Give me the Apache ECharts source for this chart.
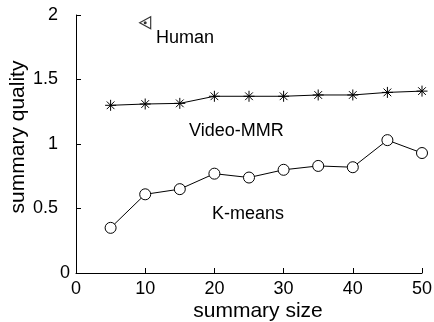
<!DOCTYPE html>
<html>
<head>
<meta charset="utf-8">
<script src="https://cdn.jsdelivr.net/npm/echarts@6/dist/echarts.min.js"></script>
<style>
html,body{margin:0;padding:0;background:#fff;}
#chart{width:434px;height:322px;}
</style>
</head>
<body>
<div id="chart"></div>
<script>
// Data
const sizes = [5, 10, 15, 20, 25, 30, 35, 40, 45, 50];
const videoMMR = [1.30, 1.31, 1.315, 1.37, 1.37, 1.37, 1.38, 1.38, 1.40, 1.41];
const kmeans = [0.35, 0.61, 0.65, 0.77, 0.74, 0.80, 0.83, 0.82, 1.03, 0.93];
const humanX = [10];
const humanY = [1.94];
const xTicks = [0, 10, 20, 30, 40, 50];
const yTicks = [0, 0.5, 1, 1.5, 2];
const labels = ['Human', 'Video-MMR', 'K-means'];

const FONT = '"Liberation Sans", Arial, sans-serif';
const chart = echarts.init(document.getElementById('chart'), null, {renderer: 'canvas'});

const pair = (xs, ys) => xs.map((x, i) => [x, ys[i]]);
const asterisk = 'path://M0,-10L0,10M-10,0L10,0M-7,-7L7,7M-7,7L7,-7';

chart.setOption({
  animation: false,
  backgroundColor: '#fff',
  grid: {left: 76, right: 12, top: 15, bottom: 49, containLabel: false, outerBoundsMode: 'none'},
  xAxis: {
    type: 'value', min: xTicks[0], max: xTicks[xTicks.length - 1], interval: 10,
    name: 'summary size', nameLocation: 'middle', nameGap: 28, nameMoveOverlap: false,
    nameTextStyle: {fontFamily: FONT, fontSize: 21, color: '#000', padding: [0, 0, 0, 18]},
    axisLine: {show: true, lineStyle: {color: '#000', width: 1}},
    axisTick: {show: true, inside: true, length: 5, lineStyle: {color: '#000'}},
    axisLabel: {fontFamily: FONT, fontSize: 18, color: '#000', margin: 7},
    splitLine: {show: false}
  },
  yAxis: {
    type: 'value', min: yTicks[0], max: yTicks[yTicks.length - 1], interval: 0.5,
    name: 'summary quality', nameLocation: 'middle', nameGap: 47, nameMoveOverlap: false,
    nameTextStyle: {fontFamily: FONT, fontSize: 21, color: '#000', padding: [0, 0, 0, 14]},
    axisLine: {show: true, lineStyle: {color: '#000', width: 1}},
    axisTick: {show: true, inside: true, length: 5, lineStyle: {color: '#000'}},
    axisLabel: {
      fontFamily: FONT, fontSize: 18, color: '#000', margin: 6,
      formatter: v => v === 0 ? '{z|0}' : '{n|' + v + '}',
      rich: {
        z: {fontFamily: FONT, fontSize: 18, color: '#000'},
        n: {fontFamily: FONT, fontSize: 18, color: '#000', padding: [0, 12, 0, 0]}
      }
    },
    splitLine: {show: false}
  },
  series: [
    {
      name: 'Video-MMR', type: 'line', data: pair(sizes, videoMMR),
      symbol: asterisk, symbolSize: 11,
      lineStyle: {color: '#000', width: 1},
      itemStyle: {color: 'none', borderColor: '#000', borderWidth: 1}
    },
    {
      name: 'K-means', type: 'line', data: pair(sizes, kmeans),
      symbol: 'circle', symbolSize: 11,
      lineStyle: {color: '#000', width: 1},
      itemStyle: {color: '#fff', borderColor: '#000', borderWidth: 1}
    },
    {
      name: 'Human', type: 'scatter', data: pair(humanX, humanY),
      symbol: 'triangle', symbolSize: [12, 11], symbolRotate: 90,
      itemStyle: {color: '#fff', borderColor: '#000', borderWidth: 1.2}
    },
    {
      name: 'HumanDot', type: 'scatter', data: pair(humanX, humanY),
      symbol: 'circle', symbolSize: 3,
      itemStyle: {color: '#000'}
    }
  ],
  graphic: [
    {type: 'text', x: 156, y: 38, style: {text: labels[0], font: '18px ' + FONT, fill: '#000', verticalAlign: 'middle', textVerticalAlign: 'middle'}},
    {type: 'text', x: 189, y: 131, style: {text: labels[1], font: '18px ' + FONT, fill: '#000', verticalAlign: 'middle', textVerticalAlign: 'middle'}},
    {type: 'text', x: 212, y: 214, style: {text: labels[2], font: '18px ' + FONT, fill: '#000', verticalAlign: 'middle', textVerticalAlign: 'middle'}}
  ]
});
</script>
</body>
</html>
